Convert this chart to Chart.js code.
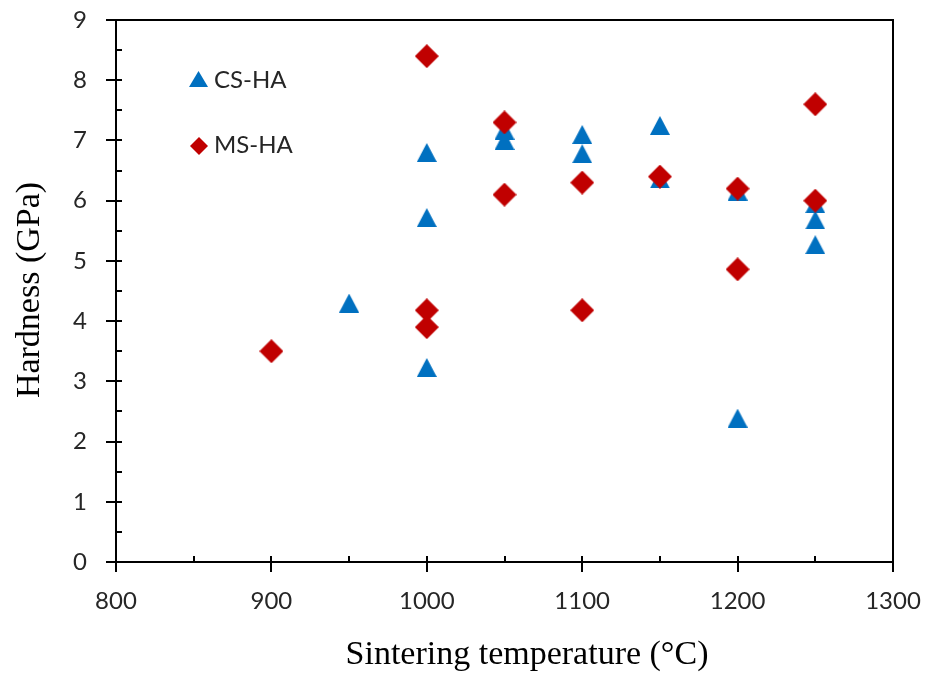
<!DOCTYPE html>
<html>
<head>
<meta charset="utf-8">
<script src="https://cdn.jsdelivr.net/npm/chart.js@4.4.1/dist/chart.umd.min.js"></script>
<style>
html,body{margin:0;padding:0;background:#fff;}
#wrap{width:929px;height:673px;position:relative;}
</style>
</head>
<body>
<div id="wrap"><canvas id="c" width="929" height="673"></canvas></div>
<script>
// ---- data ----
const seriesNames = ['CS-HA', 'MS-HA'];
const csTemp = [950, 1000, 1000, 1000, 1050, 1050, 1100, 1100, 1150, 1150, 1200, 1200, 1250, 1250, 1250];
const csHard = [4.3, 6.8, 5.72, 3.23, 7.17, 7.0, 7.1, 6.78, 7.25, 6.36, 6.16, 2.39, 5.95, 5.68, 5.27];
const msTemp = [900, 1000, 1000, 1000, 1050, 1050, 1100, 1100, 1150, 1200, 1200, 1250, 1250];
const msHard = [3.5, 8.4, 4.18, 3.9, 7.3, 6.1, 6.3, 4.18, 6.4, 6.2, 4.86, 7.6, 6.0];
const xTicks = [800, 900, 1000, 1100, 1200, 1300];
const yTicks = [0, 1, 2, 3, 4, 5, 6, 7, 8, 9];
const xTitle = 'Sintering temperature (°C)';
const yTitle = 'Hardness (GPa)';

const BLUE = '#0070C0';
const RED = '#C00000';
const TEXT = '#262626';

function makeTriangle(w, h, color) {
  const c = document.createElement('canvas');
  c.width = w; c.height = h;
  const g = c.getContext('2d');
  g.fillStyle = color;
  g.beginPath();
  g.moveTo(w / 2, 0);
  g.lineTo(w, h);
  g.lineTo(0, h);
  g.closePath();
  g.fill();
  return c;
}
function makeDiamond(w, h, color) {
  const c = document.createElement('canvas');
  c.width = w; c.height = h;
  const g = c.getContext('2d');
  g.fillStyle = color;
  g.beginPath();
  g.moveTo(w / 2, 0);
  g.lineTo(w, h / 2);
  g.lineTo(w / 2, h);
  g.lineTo(0, h / 2);
  g.closePath();
  g.fill();
  return c;
}
const triImg = makeTriangle(20, 19, BLUE);
const diaImg = makeDiamond(24, 24, RED);
const triLeg = makeTriangle(19, 16, BLUE);
const diaLeg = makeDiamond(18, 18, RED);

const toPts = (xs, ys) => xs.map((x, i) => ({x: x, y: ys[i]}));

const axesPlugin = {
  id: 'axesPlugin',
  afterDraw(chart) {
    const ctx = chart.ctx;
    const xs = chart.scales.x, ys = chart.scales.y;
    const a = chart.chartArea;
    ctx.save();
    ctx.strokeStyle = '#000';
    ctx.lineWidth = 2;
    ctx.lineCap = 'butt';
    // box
    ctx.beginPath();
    ctx.rect(a.left, a.top, a.right - a.left, a.bottom - a.top);
    ctx.stroke();
    // y ticks
    ctx.beginPath();
    yTicks.forEach(v => {
      const p = Math.round(ys.getPixelForValue(v));
      ctx.moveTo(a.left - 10, p); ctx.lineTo(a.left + 6, p);
      if (v < 9) {
        const m = Math.round(ys.getPixelForValue(v + 0.5));
        ctx.moveTo(a.left, m); ctx.lineTo(a.left + 6, m);
      }
    });
    // x ticks
    xTicks.forEach((v, i) => {
      const p = Math.round(xs.getPixelForValue(v));
      ctx.moveTo(p, a.bottom + 10); ctx.lineTo(p, a.bottom - 6);
      if (i < xTicks.length - 1) {
        const m = Math.round(xs.getPixelForValue(v + 50));
        ctx.moveTo(m, a.bottom); ctx.lineTo(m, a.bottom - 6);
      }
    });
    ctx.stroke();
    // axis titles
    ctx.fillStyle = '#000';
    ctx.font = '34px "Liberation Serif"';
    ctx.textAlign = 'center';
    ctx.textBaseline = 'middle';
    ctx.fillText(xTitle, 527, 655);
    ctx.save();
    ctx.translate(30, 290);
    ctx.rotate(-Math.PI / 2);
    ctx.fillText(yTitle, 0, 0);
    ctx.restore();
    // legend
    ctx.drawImage(triLeg, 189, 71);
    ctx.drawImage(diaLeg, 190, 137);
    ctx.font = '24px Lato';
    ctx.fillStyle = TEXT;
    ctx.textAlign = 'left';
    ctx.textBaseline = 'middle';
    ctx.fillText(seriesNames[0], 214, 80);
    ctx.fillText(seriesNames[1], 214, 145);
    ctx.restore();
  }
};

function zeroPad(s) { s.paddingTop = 0; s.paddingBottom = 0; s.paddingLeft = 0; s.paddingRight = 0; }

new Chart(document.getElementById('c'), {
  type: 'scatter',
  data: {
    datasets: [
      {label: seriesNames[0], data: toPts(csTemp, csHard), pointStyle: triImg, order: 1,
       backgroundColor: BLUE, borderColor: BLUE},
      {label: seriesNames[1], data: toPts(msTemp, msHard), pointStyle: diaImg, order: 0,
       backgroundColor: RED, borderColor: RED}
    ]
  },
  options: {
    responsive: false,
    animation: false,
    layout: {padding: {top: 20, right: 36, left: 0, bottom: 0}},
    plugins: {legend: {display: false}, tooltip: {enabled: false}},
    scales: {
      x: {
        type: 'linear', min: 800, max: 1300,
        afterFit(s) { s.height = 111; zeroPad(s); },
        afterBuildTicks(s) { s.ticks = xTicks.map(v => ({value: v})); },
        grid: {display: false, drawTicks: false},
        border: {display: false},
        ticks: {padding: 25, color: TEXT, font: {family: 'Lato', size: 24}, maxRotation: 0, autoSkip: false,
                callback: v => String(v)}
      },
      y: {
        type: 'linear', min: 0, max: 9,
        afterFit(s) { s.width = 116; zeroPad(s); },
        afterBuildTicks(s) { s.ticks = yTicks.map(v => ({value: v})); },
        grid: {display: false, drawTicks: false},
        border: {display: false},
        ticks: {padding: 29, color: TEXT, font: {family: 'Lato', size: 24}, autoSkip: false,
                callback: v => String(v)}
      }
    }
  },
  plugins: [axesPlugin]
});
</script>
</body>
</html>
